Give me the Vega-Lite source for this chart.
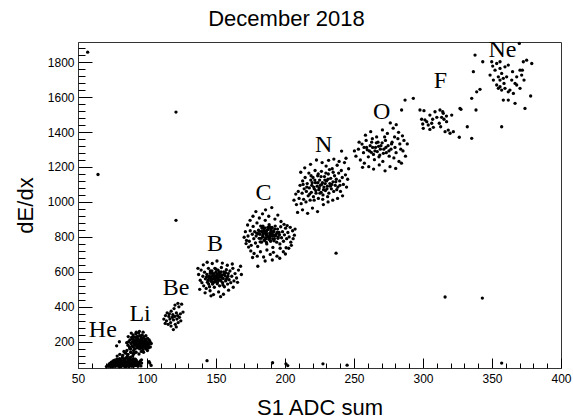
{
  "$schema": "https://vega.github.io/schema/vega-lite/v6.json",
  "width": 483,
  "height": 326,
  "autosize": "none",
  "padding": {"left": 78, "top": 42, "right": 12, "bottom": 51},
  "config": {"view": {"stroke": "#333", "strokeWidth": 1}},
  "title": {"text": "December 2018", "font": "Liberation Sans", "fontSize": 22, "fontWeight": "normal", "color": "black", "anchor": "middle", "dx": -33, "offset": 7},
  "datasets": {
    "pts": [
      {"x":72.3,"y":60},{"x":73.1,"y":66},{"x":74.4,"y":62},{"x":74.8,"y":72},{"x":75.2,"y":58},{"x":75.6,"y":68},{"x":76.3,"y":63},{"x":76.7,"y":76},{"x":77.1,"y":59},{"x":77.5,"y":70},{"x":78.3,"y":65},{"x":78.7,"y":80},{"x":79.2,"y":60},{"x":79.6,"y":72},{"x":80.4,"y":66},{"x":80.8,"y":85},{"x":81.1,"y":58},{"x":81.5,"y":75},{"x":82.3,"y":63},{"x":82.7,"y":88},{"x":83.2,"y":69},{"x":83.6,"y":60},{"x":84.4,"y":78},{"x":84.8,"y":66},{"x":85.1,"y":59},{"x":85.5,"y":84},{"x":86.3,"y":70},{"x":86.7,"y":62},{"x":87.2,"y":92},{"x":87.6,"y":75},{"x":88.4,"y":65},{"x":88.8,"y":82},{"x":89.1,"y":60},{"x":89.5,"y":95},{"x":90.3,"y":72},{"x":90.7,"y":86},{"x":91.2,"y":64},{"x":91.6,"y":100},{"x":92.4,"y":78},{"x":93.3,"y":68},
      {"x":73.5,"y":78},{"x":74.2,"y":84},{"x":75.4,"y":90},{"x":76.1,"y":82},{"x":76.5,"y":95},{"x":77.8,"y":88},{"x":78.1,"y":100},{"x":78.5,"y":72},{"x":79.4,"y":92},{"x":79.8,"y":84},{"x":80.1,"y":104},{"x":80.6,"y":74},{"x":81.3,"y":96},{"x":81.8,"y":88},{"x":82.1,"y":110},{"x":82.5,"y":76},{"x":83.4,"y":100},{"x":83.8,"y":86},{"x":84.1,"y":94},{"x":84.6,"y":108},{"x":85.3,"y":76},{"x":85.8,"y":118},{"x":86.1,"y":98},{"x":86.5,"y":88},{"x":87.4,"y":106},{"x":87.8,"y":64},{"x":88.1,"y":112},{"x":88.6,"y":96},{"x":89.3,"y":80},{"x":89.7,"y":120},{"x":90.1,"y":104},{"x":90.5,"y":62},{"x":91.4,"y":86},{"x":92.2,"y":95},{"x":92.6,"y":65},{"x":93.1,"y":82},{"x":94.3,"y":72},{"x":95.2,"y":90},{"x":95.6,"y":62},{"x":96.1,"y":78},
      {"x":71.4,"y":64},{"x":70.6,"y":58},{"x":72.6,"y":74},{"x":73.7,"y":58},{"x":77.3,"y":78},{"x":79.5,"y":66},{"x":80.2,"y":60},{"x":82.6,"y":68},{"x":84.2,"y":58},{"x":85.7,"y":68},{"x":86.4,"y":80},{"x":87.1,"y":58},{"x":88.5,"y":72},{"x":89.4,"y":70},{"x":90.6,"y":78},{"x":91.3,"y":74},{"x":93.5,"y":60},{"x":94.6,"y":85},
      {"x":80.3,"y":128},{"x":82.4,"y":122},{"x":84.6,"y":135},{"x":86.2,"y":128},{"x":88.3,"y":140},{"x":85.4,"y":150},{"x":90.2,"y":130},{"x":78.4,"y":118},{"x":83.3,"y":145},{"x":87.5,"y":160},
      {"x":86.2,"y":180},{"x":86.7,"y":200},{"x":87.3,"y":170},{"x":87.6,"y":210},{"x":88.1,"y":160},{"x":88.4,"y":190},{"x":88.8,"y":225},{"x":89.2,"y":175},{"x":89.5,"y":200},{"x":89.9,"y":240},{"x":90.3,"y":150},{"x":90.6,"y":185},{"x":90.9,"y":210},{"x":90.1,"y":170},{"x":91.4,"y":195},{"x":91.7,"y":225},{"x":91.2,"y":160},{"x":91.9,"y":245},{"x":92.3,"y":180},{"x":92.6,"y":205},{"x":92.1,"y":140},{"x":92.8,"y":230},{"x":93.2,"y":190},{"x":93.6,"y":170},{"x":93.4,"y":215},{"x":93.9,"y":250},{"x":94.3,"y":200},{"x":94.6,"y":160},{"x":94.1,"y":185},{"x":94.8,"y":235},{"x":95.2,"y":175},{"x":95.6,"y":210},{"x":95.4,"y":195},{"x":95.9,"y":145},{"x":96.3,"y":190},{"x":96.7,"y":220},{"x":96.1,"y":165},{"x":96.5,"y":240},{"x":97.3,"y":180},{"x":97.6,"y":205},{"x":97.1,"y":155},{"x":97.8,"y":230},{"x":98.4,"y":195},{"x":98.2,"y":170},{"x":98.7,"y":215},{"x":99.3,"y":185},{"x":99.1,"y":160},{"x":99.6,"y":205},{"x":100.2,"y":175},{"x":100.6,"y":195},{"x":100.4,"y":220},{"x":101.3,"y":185},{"x":101.1,"y":165},{"x":102.2,"y":200},
      {"x":89.6,"y":215},{"x":90.4,"y":195},{"x":90.2,"y":230},{"x":91.6,"y":180},{"x":91.1,"y":205},{"x":92.4,"y":190},{"x":92.7,"y":165},{"x":92.9,"y":215},{"x":93.1,"y":180},{"x":93.7,"y":200},{"x":93.3,"y":230},{"x":94.4,"y":175},{"x":94.7,"y":210},{"x":94.9,"y":190},{"x":95.1,"y":185},{"x":95.7,"y":225},{"x":95.3,"y":165},{"x":96.4,"y":200},{"x":96.8,"y":180},{"x":96.2,"y":210},{"x":97.4,"y":190},{"x":97.7,"y":170},{"x":98.6,"y":180},{"x":98.1,"y":200},{"x":99.4,"y":195},{"x":99.8,"y":175},
      {"x":88.3,"y":140},{"x":90.7,"y":135},{"x":94.2,"y":130},{"x":97.5,"y":140},{"x":100.3,"y":150},{"x":102.4,"y":170},{"x":101.6,"y":210},{"x":99.2,"y":235},{"x":97.2,"y":255},{"x":94.5,"y":260},{"x":92.2,"y":255},{"x":88.6,"y":250},{"x":86.4,"y":230},{"x":85.3,"y":195},{"x":103.1,"y":190},
      {"x":80,"y":200},{"x":78,"y":177},{"x":84,"y":137},{"x":85.5,"y":109},{"x":96,"y":97},{"x":101.5,"y":86},{"x":103,"y":65},{"x":102,"y":78},
      {"x":112.2,"y":330},{"x":113.4,"y":350},{"x":114.1,"y":320},{"x":115.3,"y":300},{"x":115.8,"y":345},{"x":116.2,"y":360},{"x":116.6,"y":330},{"x":117.1,"y":310},{"x":117.5,"y":375},{"x":118.3,"y":340},{"x":118.7,"y":355},{"x":119.2,"y":325},{"x":119.6,"y":390},{"x":120.1,"y":345},{"x":120.5,"y":300},{"x":121.3,"y":365},{"x":121.7,"y":330},{"x":122.2,"y":350},{"x":122.6,"y":310},{"x":123.1,"y":400},{"x":123.5,"y":340},{"x":124.2,"y":360},{"x":125.1,"y":415},{"x":122.4,"y":420},{"x":120.3,"y":410},{"x":117.4,"y":290},{"x":119.1,"y":270},{"x":121.2,"y":285},{"x":124.5,"y":320},{"x":126.1,"y":370},{"x":114.6,"y":365},{"x":113.2,"y":305},
      {"x":137.4,"y":585},{"x":138.6,"y":552},{"x":139.2,"y":610},{"x":139.8,"y":538},{"x":140.5,"y":575},{"x":141.1,"y":520},{"x":141.7,"y":598},{"x":142.3,"y":560},{"x":142.9,"y":505},{"x":143.4,"y":585},{"x":143.8,"y":540},{"x":144.5,"y":620},{"x":144.9,"y":565},{"x":145.3,"y":515},{"x":145.8,"y":592},{"x":146.2,"y":548},{"x":146.7,"y":572},{"x":147.1,"y":605},{"x":147.5,"y":530},{"x":147.9,"y":558},{"x":148.4,"y":590},{"x":148.8,"y":512},{"x":149.1,"y":575},{"x":149.6,"y":545},{"x":150.0,"y":615},{"x":150.4,"y":565},{"x":150.9,"y":532},{"x":151.3,"y":588},{"x":151.7,"y":555},{"x":152.2,"y":600},{"x":152.6,"y":520},{"x":153.0,"y":572},{"x":153.5,"y":548},{"x":153.9,"y":625},{"x":154.3,"y":582},{"x":154.8,"y":538},{"x":155.2,"y":562},{"x":155.7,"y":600},{"x":156.1,"y":515},{"x":156.6,"y":578},{"x":157.0,"y":548},{"x":157.5,"y":612},{"x":157.9,"y":565},{"x":158.4,"y":530},{"x":158.9,"y":590},{"x":159.5,"y":555},{"x":160.1,"y":605},{"x":160.7,"y":538},{"x":161.4,"y":575},{"x":162.2,"y":620},{"x":163.0,"y":548},{"x":163.8,"y":590},{"x":164.9,"y":565},{"x":166.3,"y":610},{"x":167.8,"y":632},
      {"x":140.8,"y":640},{"x":143.6,"y":655},{"x":147.3,"y":648},{"x":150.7,"y":662},{"x":154.6,"y":650},{"x":158.2,"y":638},{"x":161.8,"y":645},{"x":142.1,"y":480},{"x":145.7,"y":492},{"x":148.2,"y":470},{"x":151.9,"y":485},{"x":155.4,"y":472},{"x":159.1,"y":495},{"x":162.5,"y":512},{"x":153.3,"y":458},{"x":146.4,"y":463},{"x":138.2,"y":500},{"x":165.6,"y":540},{"x":168.4,"y":585},{"x":136.9,"y":620},
      {"x":146.1,"y":560},{"x":147.8,"y":578},{"x":149.4,"y":555},{"x":150.6,"y":585},{"x":151.9,"y":568},{"x":153.2,"y":552},{"x":148.5,"y":540},{"x":152.8,"y":590},{"x":150.2,"y":548},{"x":145.2,"y":575},{"x":154.1,"y":568},{"x":149.9,"y":598},{"x":147.0,"y":592},{"x":151.1,"y":542},{"x":155.9,"y":585},{"x":144.2,"y":552},{"x":152.4,"y":578},{"x":148.9,"y":565},{"x":150.8,"y":572},{"x":146.8,"y":545},{"x":153.7,"y":600},{"x":149.2,"y":620},{"x":155.0,"y":525},{"x":143.1,"y":570},{"x":157.3,"y":555},{"x":145.9,"y":605},{"x":151.5,"y":610},{"x":156.9,"y":595},{"x":144.7,"y":530},{"x":158.7,"y":575},
      {"x":173.2,"y":805},{"x":174.1,"y":775},{"x":174.8,"y":835},{"x":175.5,"y":752},{"x":176.3,"y":815},{"x":176.9,"y":860},{"x":177.4,"y":790},{"x":178.0,"y":830},{"x":178.6,"y":765},{"x":179.1,"y":805},{"x":179.7,"y":880},{"x":180.2,"y":745},{"x":180.8,"y":838},{"x":181.3,"y":792},{"x":181.9,"y":815},{"x":182.4,"y":862},{"x":183.0,"y":770},{"x":183.5,"y":828},{"x":184.1,"y":800},{"x":184.6,"y":848},{"x":185.2,"y":780},{"x":185.7,"y":895},{"x":186.3,"y":812},{"x":186.8,"y":760},{"x":187.4,"y":842},{"x":187.9,"y":798},{"x":188.5,"y":870},{"x":189.0,"y":822},{"x":189.6,"y":775},{"x":190.1,"y":850},{"x":190.7,"y":805},{"x":191.2,"y":740},{"x":191.8,"y":832},{"x":192.3,"y":790},{"x":192.9,"y":862},{"x":193.5,"y":815},{"x":194.0,"y":770},{"x":194.6,"y":845},{"x":195.1,"y":800},{"x":195.7,"y":825},{"x":196.3,"y":760},{"x":196.9,"y":858},{"x":197.5,"y":795},{"x":198.2,"y":830},{"x":198.9,"y":775},{"x":199.6,"y":812},{"x":200.4,"y":850},{"x":201.2,"y":790},{"x":202.1,"y":825},{"x":203.0,"y":800},{"x":204.2,"y":770},{"x":205.5,"y":835},{"x":206.8,"y":810},{"x":172.1,"y":780},{"x":171.3,"y":830},
      {"x":175.2,"y":720},{"x":177.6,"y":705},{"x":179.9,"y":690},{"x":182.2,"y":715},{"x":184.5,"y":685},{"x":186.9,"y":725},{"x":189.3,"y":700},{"x":191.6,"y":712},{"x":194.2,"y":690},{"x":196.5,"y":735},{"x":198.8,"y":715},{"x":173.6,"y":742},{"x":171.8,"y":762},{"x":172.9,"y":868},{"x":174.7,"y":895},{"x":176.8,"y":918},{"x":178.9,"y":945},{"x":181.4,"y":908},{"x":183.7,"y":932},{"x":185.9,"y":955},{"x":188.2,"y":918},{"x":190.4,"y":968},{"x":192.7,"y":902},{"x":194.8,"y":925},{"x":197.1,"y":888},{"x":199.3,"y":872},{"x":201.6,"y":865},{"x":203.8,"y":855},{"x":205.9,"y":790},{"x":204.6,"y":752},{"x":200.8,"y":738},{"x":170.4,"y":798},{"x":207.3,"y":845},{"x":180.3,"y":632},{"x":185.6,"y":662},{"x":190.8,"y":668},{"x":196.2,"y":678},{"x":200.3,"y":702},{"x":176.5,"y":682},{"x":202.7,"y":735},
      {"x":184.3,"y":818},{"x":186.1,"y":795},{"x":188.0,"y":845},{"x":190.3,"y":818},{"x":187.2,"y":808},{"x":189.4,"y":812},{"x":191.1,"y":788},{"x":185.4,"y":852},{"x":183.2,"y":832},{"x":184.8,"y":782},{"x":186.5,"y":768},{"x":188.7,"y":858},{"x":190.6,"y":855},{"x":192.1,"y":778},{"x":194.3,"y":825},{"x":182.6,"y":792},{"x":185.1,"y":835},{"x":187.6,"y":855},{"x":183.8,"y":805},{"x":181.6,"y":832},{"x":186.0,"y":790},{"x":189.1,"y":802},{"x":191.4,"y":826},{"x":193.2,"y":806},{"x":196.0,"y":812},{"x":184.0,"y":862},{"x":182.0,"y":772},{"x":188.3,"y":786},{"x":190.0,"y":838},{"x":187.0,"y":818},{"x":185.8,"y":822},{"x":189.8,"y":830},{"x":192.5,"y":845},{"x":180.5,"y":818},{"x":183.4,"y":850},{"x":188.9,"y":792},{"x":191.9,"y":808},{"x":186.7,"y":835},{"x":179.4,"y":822},{"x":194.9,"y":792},
      {"x":206.5,"y":1010},{"x":207.8,"y":1045},{"x":208.3,"y":985},{"x":209.6,"y":1060},{"x":210.2,"y":1020},{"x":210.9,"y":1095},{"x":211.7,"y":990},{"x":212.4,"y":1050},{"x":212.8,"y":1120},{"x":213.5,"y":1015},{"x":213.9,"y":1075},{"x":214.6,"y":1140},{"x":215.2,"y":1000},{"x":215.5,"y":1060},{"x":216.1,"y":1105},{"x":216.8,"y":1035},{"x":217.3,"y":1165},{"x":217.6,"y":1080},{"x":218.2,"y":1010},{"x":218.7,"y":1125},{"x":219.1,"y":1055},{"x":219.4,"y":1095},{"x":220.3,"y":1140},{"x":220.6,"y":1030},{"x":221.2,"y":1075},{"x":221.8,"y":1180},{"x":222.1,"y":1110},{"x":222.5,"y":1050},{"x":223.3,"y":1090},{"x":223.7,"y":1150},{"x":224.2,"y":1020},{"x":224.5,"y":1070},{"x":225.1,"y":1125},{"x":225.6,"y":1095},{"x":226.2,"y":1055},{"x":226.4,"y":1175},{"x":227.1,"y":1110},{"x":227.5,"y":1040},{"x":228.2,"y":1085},{"x":228.6,"y":1145},{"x":229.3,"y":1065},{"x":229.8,"y":1205},{"x":230.1,"y":1120},{"x":230.7,"y":1090},{"x":231.4,"y":1160},{"x":231.8,"y":1050},{"x":232.5,"y":1105},{"x":233.1,"y":1135},{"x":233.6,"y":1075},{"x":234.2,"y":1190},{"x":234.8,"y":1115},{"x":235.3,"y":1060},{"x":235.9,"y":1150},{"x":236.4,"y":1095},{"x":237.2,"y":1130},{"x":237.8,"y":1210},{"x":238.3,"y":1085},{"x":238.9,"y":1165},{"x":239.6,"y":1120},{"x":240.2,"y":1060},{"x":240.8,"y":1180},{"x":241.5,"y":1140},{"x":242.3,"y":1100},{"x":243.1,"y":1225},{"x":243.8,"y":1155},{"x":244.6,"y":1085},{"x":245.4,"y":1130},{"x":246.1,"y":1190},
      {"x":209.1,"y":940},{"x":212.7,"y":955},{"x":216.4,"y":935},{"x":219.9,"y":965},{"x":223.6,"y":945},{"x":227.8,"y":985},{"x":231.2,"y":1000},{"x":234.6,"y":1010},{"x":238.1,"y":1020},{"x":241.7,"y":1035},{"x":211.4,"y":1170},{"x":214.3,"y":1195},{"x":218.5,"y":1215},{"x":222.8,"y":1240},{"x":226.9,"y":1225},{"x":231.6,"y":1238},{"x":235.4,"y":1245},{"x":239.2,"y":1232},{"x":244.2,"y":1250},
      {"x":220.8,"y":1085},{"x":222.3,"y":1065},{"x":223.9,"y":1110},{"x":224.8,"y":1080},{"x":226.6,"y":1100},{"x":227.9,"y":1070},{"x":229.1,"y":1105},{"x":230.4,"y":1075},{"x":231.1,"y":1130},{"x":232.9,"y":1090},{"x":225.3,"y":1050},{"x":221.6,"y":1125},{"x":228.9,"y":1125},{"x":233.9,"y":1100},{"x":219.7,"y":1110},{"x":217.9,"y":1045},{"x":236.8,"y":1115},{"x":226.1,"y":1145},{"x":224.1,"y":1160},{"x":229.6,"y":1165},{"x":215.8,"y":1085},{"x":213.1,"y":1100},{"x":232.2,"y":1185},{"x":234.9,"y":1170},{"x":218.9,"y":1150},{"x":221.1,"y":1010},{"x":227.3,"y":1015},{"x":230.9,"y":1030},{"x":237.5,"y":1070},{"x":239.8,"y":1095},
      {"x":251.4,"y":1262},{"x":253.2,"y":1302},{"x":254.6,"y":1240},{"x":255.8,"y":1331},{"x":256.9,"y":1282},{"x":257.5,"y":1222},{"x":258.8,"y":1352},{"x":259.6,"y":1298},{"x":260.4,"y":1258},{"x":261.7,"y":1322},{"x":262.5,"y":1284},{"x":263.3,"y":1362},{"x":264.8,"y":1242},{"x":265.6,"y":1312},{"x":266.9,"y":1288},{"x":267.4,"y":1342},{"x":268.7,"y":1268},{"x":269.5,"y":1322},{"x":270.9,"y":1232},{"x":271.6,"y":1302},{"x":272.8,"y":1352},{"x":273.4,"y":1282},{"x":274.7,"y":1322},{"x":275.5,"y":1262},{"x":276.8,"y":1302},{"x":277.6,"y":1342},{"x":278.9,"y":1252},{"x":279.7,"y":1312},{"x":280.5,"y":1282},{"x":281.8,"y":1362},{"x":282.6,"y":1232},{"x":283.9,"y":1302},
      {"x":258.3,"y":1382},{"x":262.1,"y":1402},{"x":266.4,"y":1372},{"x":270.6,"y":1412},{"x":274.2,"y":1392},{"x":278.4,"y":1422},{"x":282.3,"y":1398},{"x":285.1,"y":1378},{"x":280.6,"y":1442},{"x":276.3,"y":1452},{"x":260.7,"y":1202},{"x":264.2,"y":1188},{"x":268.3,"y":1212},{"x":272.5,"y":1178},{"x":276.1,"y":1202},{"x":280.2,"y":1192},{"x":284.4,"y":1222},{"x":287.3,"y":1262},{"x":288.6,"y":1332},{"x":286.2,"y":1352},{"x":250.3,"y":1292},{"x":253.7,"y":1342},{"x":256.2,"y":1198},
      {"x":263.5,"y":1312},{"x":265.2,"y":1292},{"x":267.8,"y":1318},{"x":269.1,"y":1302},{"x":271.3,"y":1278},{"x":266.2,"y":1338},{"x":264.1,"y":1272},{"x":268.1,"y":1258},{"x":270.4,"y":1338},{"x":262.8,"y":1342},{"x":273.1,"y":1312},{"x":275.3,"y":1292},{"x":261.2,"y":1292},{"x":259.1,"y":1312},{"x":257.3,"y":1312},{"x":277.2,"y":1332},{"x":279.4,"y":1372},{"x":283.2,"y":1332},{"x":285.5,"y":1292},{"x":272.2,"y":1372},
      {"x":297.8,"y":1526},{"x":300.7,"y":1522},{"x":299,"y":1473},{"x":301.4,"y":1469},{"x":300.2,"y":1421},{"x":305,"y":1497},{"x":307,"y":1473},{"x":305,"y":1415},{"x":307.5,"y":1427},{"x":302.7,"y":1459},{"x":308.7,"y":1516},{"x":312.3,"y":1526},{"x":314.3,"y":1516},{"x":313.5,"y":1484},{"x":315.2,"y":1473},{"x":317.1,"y":1459},{"x":311.8,"y":1450},{"x":318.3,"y":1411},{"x":319.6,"y":1393},{"x":322,"y":1402},{"x":316,"y":1402},{"x":326.3,"y":1370},{"x":320.8,"y":1497},{"x":317,"y":1491},{"x":310,"y":1484},{"x":303.8,"y":1440},{"x":299.8,"y":1446},{"x":306.3,"y":1450},{"x":314.7,"y":1507},{"x":312.8,"y":1430},{"x":293,"y":1593},{"x":284.5,"y":1526},
      {"x":337.7,"y":1840},{"x":343.3,"y":1802},{"x":336.5,"y":1745},{"x":349.8,"y":1802},{"x":353.4,"y":1792},{"x":355.8,"y":1802},{"x":359.4,"y":1773},{"x":361.8,"y":1783},{"x":352.2,"y":1754},{"x":357,"y":1735},{"x":348.6,"y":1726},{"x":354.6,"y":1716},{"x":351,"y":1697},{"x":358.2,"y":1707},{"x":360.6,"y":1716},{"x":364.3,"y":1697},{"x":366.7,"y":1678},{"x":370.3,"y":1754},{"x":371.5,"y":1726},{"x":373.2,"y":1697},{"x":372.7,"y":1802},{"x":375.1,"y":1811},{"x":378.8,"y":1792},{"x":369.8,"y":1907},{"x":353.4,"y":1669},{"x":355.8,"y":1659},{"x":359.4,"y":1650},{"x":363,"y":1640},{"x":367.9,"y":1669},{"x":370.3,"y":1650},{"x":365.5,"y":1621},{"x":361.8,"y":1630},{"x":357,"y":1640},{"x":354.6,"y":1650},{"x":358.2,"y":1583},{"x":361.8,"y":1583},{"x":366.7,"y":1564},{"x":373.9,"y":1535},{"x":378,"y":1606},{"x":341.3,"y":1644},{"x":338.9,"y":1630},{"x":335.3,"y":1593},{"x":338.4,"y":1526},{"x":332.1,"y":1430},{"x":335.3,"y":1364},{"x":357,"y":1430},{"x":355.8,"y":1697},{"x":358.7,"y":1678},{"x":364.9,"y":1745},{"x":367.9,"y":1716},{"x":372,"y":1754},{"x":350.5,"y":1777},{"x":355.8,"y":1764},{"x":326.8,"y":1535},{"x":327.5,"y":1530},
      {"x":57,"y":1857},{"x":64.5,"y":1157},{"x":121,"y":895},{"x":121,"y":1514},{"x":237,"y":707},{"x":316,"y":456},{"x":343,"y":450},{"x":287,"y":1583},{"x":241,"y":1291},
      {"x":143.5,"y":92},{"x":191,"y":80},{"x":200.7,"y":74},{"x":202,"y":64},{"x":227.5,"y":74},{"x":245,"y":66},{"x":357,"y":78}
    ],
    "lbl": [
      {"x":68,"y":229,"label":"He"},{"x":95,"y":320,"label":"Li"},{"x":121,"y":465,"label":"Be"},{"x":149.3,"y":722,"label":"B"},{"x":184.4,"y":1011,"label":"C"},{"x":228,"y":1287,"label":"N"},{"x":270,"y":1472,"label":"O"},{"x":312.7,"y":1650,"label":"F"},{"x":357.6,"y":1830,"label":"Ne"}
    ]
  },
  "layer": [
    {
      "data": {"name": "pts"},
      "mark": {"type": "circle", "size": 11, "color": "black", "opacity": 1},
      "encoding": {
        "x": {"field": "x", "type": "quantitative", "scale": {"domain": [50, 400], "nice": false, "zero": false},
          "axis": {"orient": "bottom", "values": [50,100,150,200,250,300,350,400], "format": "d", "grid": false, "tickSize": -10, "tickColor": "black", "domainColor": "#333", "labelFont": "Liberation Sans", "labelFontSize": 12, "labelColor": "black", "labelPadding": 15, "labelFlush": false, "labelOverlap": false, "title": "S1 ADC sum", "titleFont": "Liberation Sans", "titleFontSize": 22, "titleFontWeight": "normal", "titleColor": "black", "titlePadding": 13}},
        "y": {"field": "y", "type": "quantitative", "scale": {"domain": [50, 1915], "nice": false, "zero": false},
          "axis": {"orient": "left", "values": [200,400,600,800,1000,1200,1400,1600,1800], "format": "d", "grid": false, "tickSize": -14, "tickColor": "black", "domainColor": "#333", "labelFont": "Liberation Sans", "labelFontSize": 12, "labelColor": "black", "labelPadding": 18, "labelFlush": false, "labelOverlap": false, "title": "dE/dx", "titleFont": "Liberation Sans", "titleFontSize": 22, "titleFontWeight": "normal", "titleColor": "black", "titlePadding": 10}}
      }
    },
    {
      "data": {"name": "lbl"},
      "mark": {"type": "point", "opacity": 0},
      "encoding": {
        "x": {"field": "x", "type": "quantitative", "scale": {"domain": [50, 400], "nice": false, "zero": false},
          "axis": {"orient": "bottom", "values": [60,70,80,90,110,120,130,140,160,170,180,190,210,220,230,240,260,270,280,290,310,320,330,340,360,370,380,390], "grid": false, "tickSize": -5, "tickColor": "black", "domain": false, "labels": false, "title": null}},
        "y": {"field": "y", "type": "quantitative", "scale": {"domain": [50, 1915], "nice": false, "zero": false},
          "axis": {"orient": "left", "values": [80,120,160,240,280,320,360,440,480,520,560,640,680,720,760,840,880,920,960,1040,1080,1120,1160,1240,1280,1320,1360,1440,1480,1520,1560,1640,1680,1720,1760,1840,1880], "grid": false, "tickSize": -7, "tickColor": "black", "domain": false, "labels": false, "title": null}}
      }
    },
    {
      "data": {"name": "lbl"},
      "mark": {"type": "text", "font": "Liberation Serif", "fontSize": 24, "color": "black", "align": "center", "baseline": "alphabetic"},
      "encoding": {
        "x": {"field": "x", "type": "quantitative", "axis": null},
        "y": {"field": "y", "type": "quantitative", "axis": null},
        "text": {"field": "label"}
      }
    }
  ],
  "resolve": {"axis": {"x": "independent", "y": "independent"}}
}
